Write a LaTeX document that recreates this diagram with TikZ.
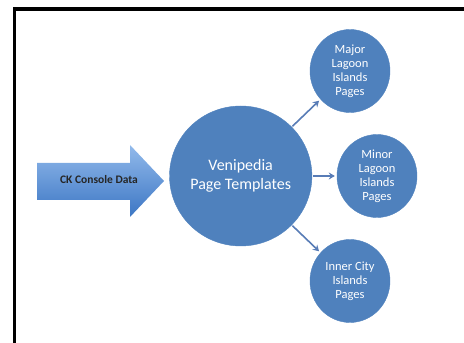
\documentclass[tikz,border=0pt]{standalone}
\usepackage{fontspec}
\setmainfont{Carlito}
\usetikzlibrary{shapes.geometric,arrows.meta}
\definecolor{obl}{RGB}{79,129,189}
\definecolor{connc}{RGB}{88,124,182}
\definecolor{arrtop}{RGB}{146,186,235}
\definecolor{arrbot}{RGB}{60,118,196}
\tikzset{
  bigc/.style={ellipse, fill=obl, draw=obl, inner sep=0pt, minimum width=134pt, minimum height=140pt, text=white, align=center, font=\fontsize{16}{19}\selectfont},
  smallc/.style={ellipse, fill=obl, draw=obl, inner sep=0pt, minimum width=80pt, minimum height=83pt, text=white, align=center, font=\fontsize{12.5}{14}\selectfont},
  conn/.style={draw=connc, line width=1.6pt, -{Stealth[length=6pt,width=7pt]}, shorten >=2pt, shorten <=1pt},
  frame/.style={draw=black, line width=3.5pt}
}
\begin{document}
\begin{tikzpicture}[x=1pt,y=1pt]
\useasboundingbox (0,0) rectangle (464,343);
\clip (0,0) rectangle (464,343);
\draw[frame] (14.7,-10) -- (14.7,334) -- (480,334);
% block arrow
\shade[top color=arrtop, bottom color=arrbot]
  (37,180) -- (130,180) -- (130,198) -- (164,162) -- (130,126) -- (130,143) -- (37,143) -- cycle;
\node[font=\bfseries\fontsize{11.5}{13}\selectfont, text=black!85] (ck) at (99,163) {CK Console Data};
\node[bigc] (V) at (240.7,167) {Venipedia\\Page Templates};
\node[smallc] (M) at (350,272) {Major\\Lagoon\\Islands\\Pages};
\node[smallc] (N) at (377,167) {Minor\\Lagoon\\Islands\\Pages};
\node[smallc] (I) at (350,62) {Inner City\\Islands\\Pages};
\draw[conn] (V) -- (M);
\draw[conn] (V) -- (N);
\draw[conn] (V) -- (I);
\end{tikzpicture}
\end{document}
